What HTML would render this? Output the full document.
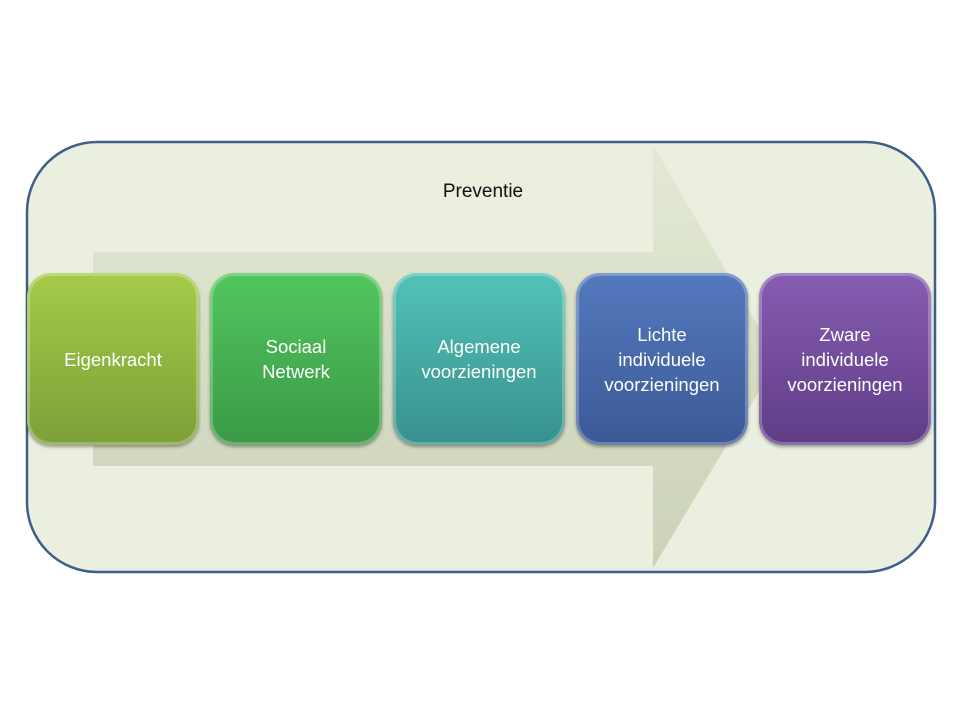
<!DOCTYPE html>
<html><head><meta charset="utf-8"><style>
html,body{margin:0;padding:0;background:#fff;width:960px;height:720px;overflow:hidden}
.b{position:absolute;top:273px;width:172px;height:172px;border-radius:24px;box-sizing:border-box;display:flex;align-items:center;justify-content:center;text-align:center;color:#fff;font-family:"Liberation Sans",sans-serif;font-size:18.5px;line-height:25px;box-shadow:0 2px 3px rgba(0,0,0,.35),inset 0 0 0 3px rgba(255,255,255,.25)}
</style></head><body>
<svg width="960" height="720" style="position:absolute;left:0;top:0">
<defs><linearGradient id="ar" x1="0" y1="0" x2="0" y2="1"><stop offset="0" stop-color="#e3e9d3"/><stop offset="1" stop-color="#cbd2b8"/></linearGradient></defs>
<rect x="27" y="142" width="908" height="430" rx="70" fill="#ebefe0" stroke="#3f5f8a" stroke-width="2.5"/>
<polygon points="93,252 653,252 653,145 778,360 653,568 653,466 93,466" fill="url(#ar)"/>
<text x="483" y="197" text-anchor="middle" font-family="Liberation Sans, sans-serif" font-size="19" fill="#111">Preventie</text>
</svg>
<div class="b" style="left:27px;background:linear-gradient(#a6cb4a,#7d9f37)">Eigenkracht</div>
<div class="b" style="left:210px;background:linear-gradient(#52c65e,#3a9945)">Sociaal<br>Netwerk</div>
<div class="b" style="left:393px;background:linear-gradient(#52c2b7,#37918c)">Algemene<br>voorzieningen</div>
<div class="b" style="left:576px;background:linear-gradient(#5479bd,#3c5996)">Lichte<br>individuele<br>voorzieningen</div>
<div class="b" style="left:759px;background:linear-gradient(#865db2,#603c86)">Zware<br>individuele<br>voorzieningen</div>
</body></html>
